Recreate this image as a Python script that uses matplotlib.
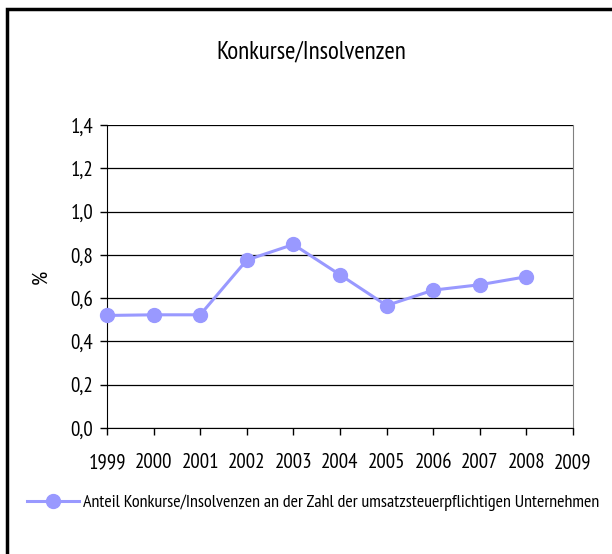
import matplotlib.pyplot as plt
from matplotlib.ticker import FuncFormatter
from matplotlib.patches import Rectangle

# Daten
jahre = [1999, 2000, 2001, 2002, 2003, 2004, 2005, 2006, 2007, 2008]
anteil = [0.52, 0.523, 0.523, 0.776, 0.848, 0.708, 0.566, 0.637, 0.662, 0.699]
y_ticks = [0.0, 0.2, 0.4, 0.6, 0.8, 1.0, 1.2, 1.4]
x_ticks = list(range(1999, 2010))

titel = "Konkurse/Insolvenzen"
legende = "Anteil Konkurse/Insolvenzen an der Zahl der umsatzsteuerpflichtigen Unternehmen"

plt.rcParams['font.family'] = ['PT Sans Narrow', 'Liberation Sans Narrow', 'DejaVu Sans']

W, H = 612, 554
fig = plt.figure(figsize=(W / 100, H / 100), dpi=100)
ax = fig.add_axes([107 / W, 1 - 428 / H, (573 - 107) / W, (428 - 125) / H])

farbe = '#9999FF'
linie, = ax.plot(jahre, anteil, '-o', color=farbe, lw=2.2, markersize=10,
                 markeredgecolor=farbe, label=legende, zorder=3, clip_on=False)

ax.set_xlim(1999, 2009)
ax.set_ylim(0, 1.4)
ax.set_xticks(x_ticks)
ax.set_yticks(y_ticks)
ax.yaxis.set_major_formatter(FuncFormatter(lambda v, p: f"{v:.1f}".replace('.', ',')))
ax.tick_params(axis='both', direction='out', length=5, width=1, colors='black',
               labelsize=15)
ax.tick_params(axis='x', pad=13)
ax.tick_params(axis='y', pad=5)
ax.grid(axis='y', color='black', lw=0.9)

ax.spines['top'].set_visible(False)
ax.spines['right'].set_color('#808080')
ax.spines['left'].set_color('black')
ax.spines['bottom'].set_color('black')

ax.set_ylabel('%', fontsize=16, labelpad=14)
fig.text(311 / W, 1 - 52 / H, titel, ha='center', va='center', fontsize=18)

fig.legend(handles=[linie], loc='center left', bbox_to_anchor=(27 / W, 1 - 503 / H),
           frameon=False, fontsize=13, handlelength=2.9, handletextpad=0.2,
           borderaxespad=0, borderpad=0)

# Rahmen links und oben
fig.add_artist(Rectangle((6.5 / W, -0.05), 1.2, 1 - 9 / H + 0.05, transform=fig.transFigure,
                         fill=False, edgecolor='black', lw=2.5))

fig.savefig('out.png', dpi=100)
